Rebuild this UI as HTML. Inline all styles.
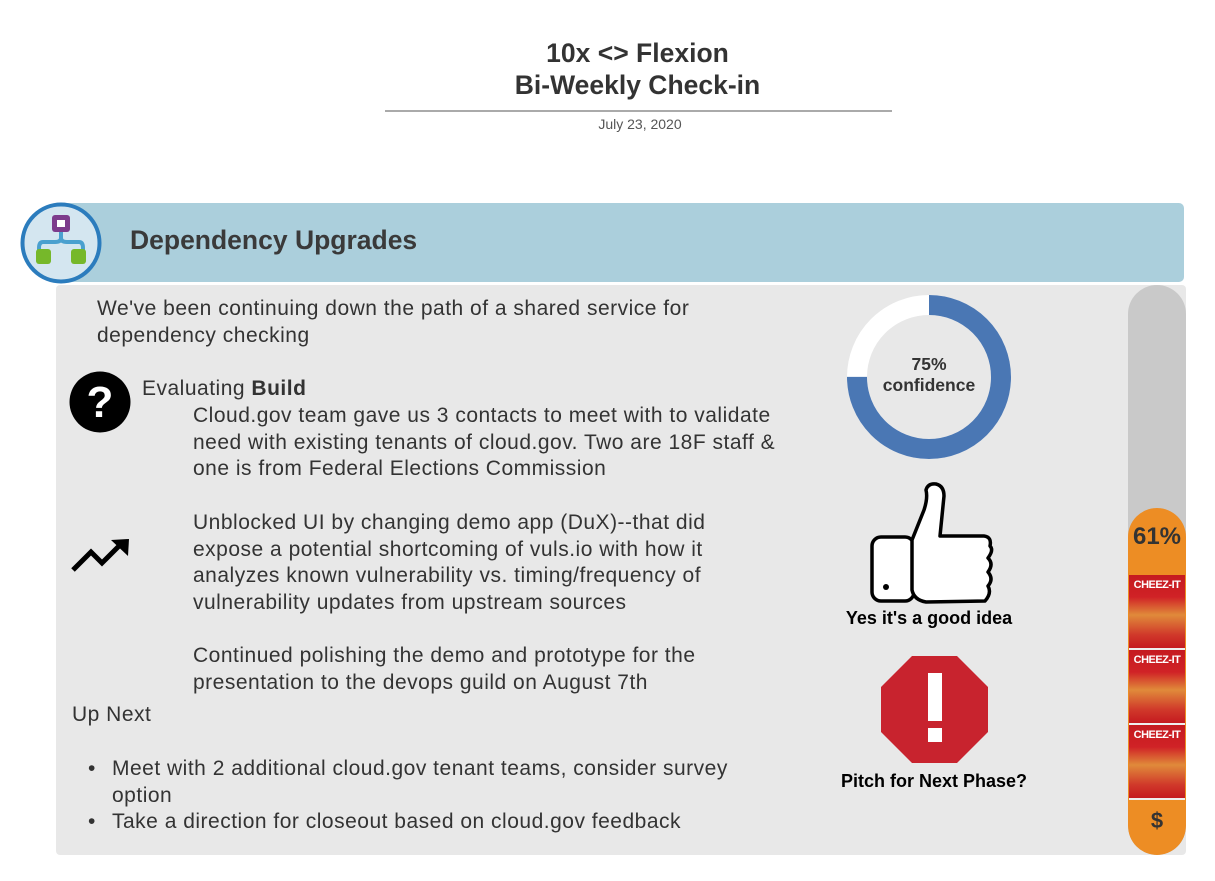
<!DOCTYPE html>
<html><head><meta charset="utf-8"><style>
body{margin:0;width:1215px;height:881px;background:#fff;position:relative;overflow:hidden;font-family:"Liberation Sans",sans-serif;color:#333}
.a{position:absolute;white-space:nowrap}
.t{font-size:21px;line-height:26.6px;color:#333;letter-spacing:0.5px}
</style></head><body>
<div class="a" style="left:0;width:1275px;top:37px;text-align:center;font-weight:bold;font-size:26.5px;line-height:32px;color:#333">10x &lt;&gt; Flexion<br>Bi-Weekly Check-in</div>
<div class="a" style="left:385px;top:110px;width:507px;height:2px;background:#aaa"></div>
<div class="a" style="left:385px;width:510px;top:116px;text-align:center;font-size:14px;color:#555">July 23, 2020</div>

<div class="a" style="left:56px;top:285px;width:1130px;height:570px;background:#e8e8e8;border-radius:4px"></div>
<div class="a" style="left:60px;top:203px;width:1124px;height:79px;background:#abcfdc;border-radius:5px"></div>
<div class="a" style="left:130px;top:225px;font-size:26.5px;font-weight:bold;color:#3a3a3a">Dependency Upgrades</div>
<svg class="a" style="left:19px;top:202px" width="84" height="84">
<circle cx="42" cy="41" r="38.5" fill="#d4e6f0" stroke="#2b7cbd" stroke-width="4"/>
<path d="M42 28 V36 Q42 40 36 40 H24 Q20 40 20 46 V52 M42 36 Q42 40 48 40 H60 Q64 40 64 46 V52" fill="none" stroke="#4aa0cf" stroke-width="4"/>
<rect x="33" y="13" width="18" height="17" rx="3" fill="#7d3c8c"/><rect x="38" y="18" width="8" height="7" fill="#fff"/>
<rect x="17" y="47" width="15" height="15" rx="3" fill="#76b82a"/><rect x="52" y="47" width="15" height="15" rx="3" fill="#76b82a"/>
</svg>

<div class="a t" style="left:97px;top:296px">We've been continuing down the path of a shared service for<br>dependency checking</div>
<svg class="a" style="left:69px;top:371px" width="62" height="62"><circle cx="31" cy="31" r="30.5" fill="#000"/><text x="31" y="46" text-anchor="middle" font-family="Liberation Sans" font-weight="bold" font-size="44" fill="#fff">?</text></svg>
<div class="a t" style="left:142px;top:376px">Evaluating <b>Build</b></div>
<div class="a t" style="left:193px;top:403px">Cloud.gov team gave us 3 contacts to meet with to validate<br>need with existing tenants of cloud.gov. Two are 18F staff &amp;<br>one is from Federal Elections Commission</div>
<svg class="a" style="left:70px;top:536px" width="62" height="40"><path d="M3 34 L21 16 L32 27 L50 9" fill="none" stroke="#000" stroke-width="5"/><path d="M41 4 L59 3 L58 20 Z" fill="#000"/></svg>
<div class="a t" style="left:193px;top:510px">Unblocked UI by changing demo app (DuX)--that did<br>expose a potential shortcoming of vuls.io with how it<br>analyzes known vulnerability vs. timing/frequency of<br>vulnerability updates from upstream sources</div>
<div class="a t" style="left:193px;top:643px">Continued polishing the demo and prototype for the<br>presentation to the devops guild on August 7th</div>
<div class="a t" style="left:72px;top:702px">Up Next</div>
<div class="a t" style="left:88px;top:756px">•</div>
<div class="a t" style="left:112px;top:756px">Meet with 2 additional cloud.gov tenant teams, consider survey<br>option</div>
<div class="a t" style="left:88px;top:809px">•</div>
<div class="a t" style="left:112px;top:809px">Take a direction for closeout based on cloud.gov feedback</div>

<svg class="a" style="left:845px;top:294px" width="168" height="168">
<circle cx="84" cy="83" r="72" fill="none" stroke="#fff" stroke-width="20"/>
<circle cx="84" cy="83" r="72" fill="none" stroke="#4a77b4" stroke-width="20" stroke-dasharray="339.3 452.4" transform="rotate(-90 84 83)"/>
<text x="84" y="76" text-anchor="middle" font-family="Liberation Sans" font-weight="bold" font-size="17.5" fill="#333">75%</text>
<text x="84" y="97" text-anchor="middle" font-family="Liberation Sans" font-weight="bold" font-size="17.5" fill="#333">confidence</text>
</svg>

<svg class="a" style="left:866px;top:480px" width="132" height="128">
<rect x="6" y="57" width="42" height="64" rx="9" fill="#fff" stroke="#000" stroke-width="3.5"/>
<circle cx="20" cy="107" r="3" fill="#000"/>
<path d="M46 60 L58 30 Q62 18 60 10 Q62 3 70 4 Q78 6 78 16 L74 56 L118 56 Q126 57 124 66 Q128 70 122 78 Q128 84 122 92 Q128 99 122 106 Q126 113 119 121 L60 122 Q48 120 46 110 Z" fill="#fff" stroke="#000" stroke-width="3.5" stroke-linejoin="round"/>
</svg>
<div class="a" style="left:800px;width:258px;top:608px;text-align:center;font-weight:bold;font-size:18px;color:#000">Yes it's a good idea</div>

<svg class="a" style="left:880px;top:655px" width="110" height="110">
<polygon points="32,1 77,1 108,32 108,77 77,108 32,108 1,77 1,32" fill="#c8232e"/>
<rect x="48" y="18" width="14" height="48" fill="#fff"/><rect x="48" y="73" width="14" height="14" fill="#fff"/>
</svg>
<div class="a" style="left:800px;width:268px;top:771px;text-align:center;font-weight:bold;font-size:18px;color:#000">Pitch for Next Phase?</div>

<div class="a" style="left:1128px;top:285px;width:58px;height:570px;border-radius:29px;background:#c9c9c9;overflow:hidden">
<div class="a" style="left:0;top:223px;width:58px;height:347px;background:#ed8d24;border-radius:29px"></div>
<div class="a" style="left:0;top:238px;width:58px;text-align:center;font-weight:bold;font-size:24px;color:#333">61%</div>
<div class="a" style="left:1px;top:290px;width:56px;height:225px;background:repeating-linear-gradient(#c51a20 0,#d02226 22px,#e08a3a 40px,#d0382a 60px,#c51a20 73px,#eee 73px,#eee 75px)"></div>
<div class="a" style="left:0;top:294px;width:58px;text-align:center;font-weight:bold;font-size:11px;color:#fff;letter-spacing:-0.5px">CHEEZ-IT</div>
<div class="a" style="left:0;top:369px;width:58px;text-align:center;font-weight:bold;font-size:11px;color:#fff;letter-spacing:-0.5px">CHEEZ-IT</div>
<div class="a" style="left:0;top:444px;width:58px;text-align:center;font-weight:bold;font-size:11px;color:#fff;letter-spacing:-0.5px">CHEEZ-IT</div>
<div class="a" style="left:0;top:523px;width:58px;text-align:center;font-weight:bold;font-size:22px;color:#333">$</div>
</div>
</body></html>
